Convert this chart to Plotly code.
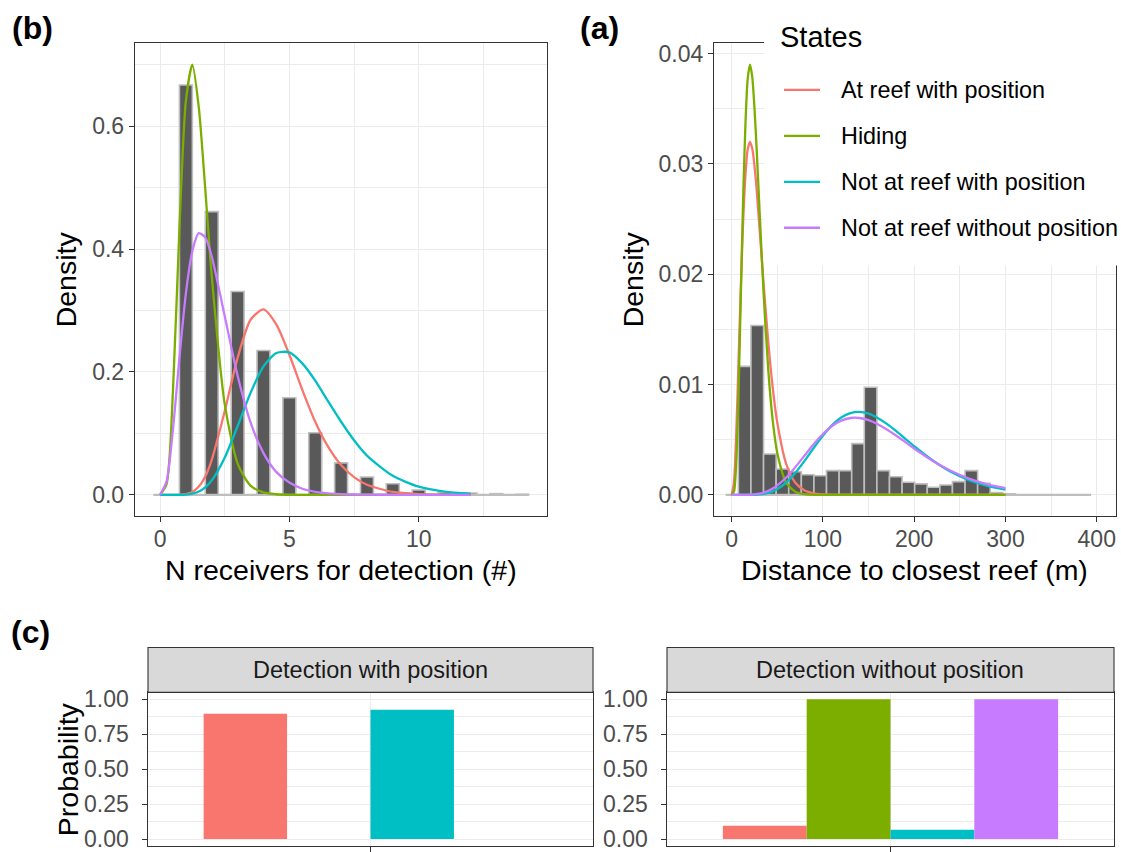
import plotly.graph_objects as go

W, H = 1121, 852
FONT = "Liberation Sans, Arial, sans-serif"

def fx(p):
    return p / W

def fy(p):
    return 1 - p / H

# ---------------- data ----------------
state_names = ["At reef with position", "Hiding", "Not at reef with position",
               "Not at reef without position"]
state_colors = ["#F8766D", "#7CAE00", "#00BFC4", "#C77CFF"]

# Panel (b): N receivers histogram (density, binwidth 0.5, integer data)
b_bin_centers = [0, 1, 2, 3, 4, 5, 6, 7, 8, 9, 10, 11, 12, 13, 14]
b_density = [0, 0.667, 0.461, 0.331, 0.235, 0.158, 0.101, 0.052, 0.029, 0.018,
             0.008, 0.004, 0.003, 0.002, 0.001]
b_binwidth = 0.5

# Panel (b): state-dependent densities
b_x = [0, 0.25, 0.5, 0.75, 1, 1.25, 1.5, 1.75, 2, 2.5, 3, 3.5, 4, 4.5, 5, 5.5,
       6, 6.5, 7, 7.5, 8, 9, 10, 11, 12]
b_red = [0, 0, 0, 0.0001, 0.0011, 0.0046, 0.0135, 0.030, 0.057, 0.136, 0.223,
         0.285, 0.302, 0.277, 0.228, 0.171, 0.119, 0.078, 0.0485, 0.0288,
         0.0164, 0.0048, 0.0013, 0.0003, 0.0001]
b_green = [0, 0.017, 0.169, 0.434, 0.641, 0.700, 0.630, 0.497, 0.356, 0.148,
           0.051, 0.015, 0.004, 0.001, 0, 0, 0, 0, 0, 0, 0, 0, 0, 0, 0]
b_cyan = [0, 0, 0, 0, 0.0005, 0.0019, 0.0055, 0.0123, 0.0235, 0.0605, 0.112,
          0.166, 0.209, 0.231, 0.232, 0.214, 0.186, 0.152, 0.119, 0.089, 0.064,
          0.031, 0.0133, 0.0053, 0.0020]
b_purple = [0, 0.0215, 0.107, 0.223, 0.328, 0.397, 0.426, 0.419, 0.388, 0.291,
            0.194, 0.118, 0.068, 0.037, 0.020, 0.010, 0.005, 0.0024, 0.0012,
            0.0006, 0.0003, 0.0001, 0, 0, 0]

# Panel (a): distance to closest reef histogram (density)
a_first_bin = 0.4
a_binwidth = 13.8
a_density = [0, 0.01165, 0.01535, 0.0037, 0.00234, 0.0021, 0.00183, 0.00174,
             0.0022, 0.0022, 0.00465, 0.00976, 0.0022, 0.00165, 0.00114, 0.001,
             0.00069, 0.0009, 0.0012, 0.0022, 0.00105, 0.0002, 0.0001, 0, 0, 0,
             0, 0, 0]

a_x = [0, 2.5, 5, 7.5, 10, 12.5, 15, 17.5, 20, 22.5, 25, 27.5, 30, 35, 40, 45,
       50, 60, 70, 80, 90, 100, 110, 120, 130, 140, 150, 160, 170, 180, 190,
       200, 220, 240, 260, 280, 300]
a_red = [0, 0.00119, 0.00562, 0.0121, 0.0189, 0.0247, 0.0289, 0.0313, 0.0320,
         0.0314, 0.0298, 0.0275, 0.0247, 0.0191, 0.0139, 0.00968, 0.00652,
         0.00274, 0.00107, 0.00039, 0.00014, 0.00005, 0, 0, 0, 0, 0, 0, 0, 0,
         0, 0, 0, 0, 0, 0, 0]
a_green = [0, 0.000315, 0.00306, 0.0094, 0.0180, 0.0267, 0.0335, 0.0377,
           0.0390, 0.0379, 0.0350, 0.0311, 0.0267, 0.0182, 0.0114, 0.0067,
           0.00378, 0.00106, 0.00027, 0.00006, 0, 0, 0, 0, 0, 0, 0, 0, 0, 0,
           0, 0, 0, 0, 0, 0, 0]
a_cyan = [0, 0, 0, 0, 0, 0, 0, 0, 0, 0, 0.00001, 0.00002, 0.00004, 0.00009,
          0.00018, 0.00032, 0.00053, 0.00114, 0.00202, 0.0031, 0.00427,
          0.00538, 0.00633, 0.00702, 0.00742, 0.00753, 0.00737, 0.00698,
          0.00644, 0.0058, 0.00511, 0.00441, 0.00314, 0.0021, 0.00134,
          0.00082, 0.00048]
a_purple = [0, 0, 0, 0, 0, 0, 0, 0, 0.00002, 0.00003, 0.00005, 0.00008,
            0.000105, 0.00021, 0.00036, 0.00058, 0.00086, 0.0016, 0.00254,
            0.00358, 0.00461, 0.00552, 0.00625, 0.00673, 0.00697, 0.00697,
            0.00677, 0.00641, 0.00593, 0.00538, 0.0048, 0.0042, 0.0031,
            0.00218, 0.00147, 0.00096, 0.00061]

# Panel (c): detection probabilities per state
c_facets = ["Detection with position", "Detection without position"]
c_with_position = [0.897, 0, 0.925, 0]
c_without_position = [0.096, 1.0, 0.067, 1.0]

b_tick_vals = [0, 5, 10]
b_ytick_vals = [0, 0.2, 0.4, 0.6]
b_ytick_text = ["0.0", "0.2", "0.4", "0.6"]
a_tick_vals = [0, 100, 200, 300, 400]
a_ytick_vals = [0, 0.01, 0.02, 0.03, 0.04]
a_ytick_text = ["0.00", "0.01", "0.02", "0.03", "0.04"]
c_ytick_vals = [0, 0.25, 0.5, 0.75, 1.0]
c_ytick_text = ["0.00", "0.25", "0.50", "0.75", "1.00"]

# ---------------- figure ----------------
fig = go.Figure()
HIST_FILL = "#595959"
HIST_LINE = "#BEBEBE"

# panel b
fig.add_trace(go.Scatter(
    x=[b_bin_centers[0] - b_binwidth / 2, b_bin_centers[-1] + b_binwidth / 2],
    y=[0, 0], mode="lines", line=dict(color=HIST_LINE, width=2.2),
    xaxis="x", yaxis="y", hoverinfo="skip"))
fig.add_trace(go.Bar(
    x=b_bin_centers, y=b_density, width=b_binwidth,
    marker=dict(color=HIST_FILL, line=dict(color=HIST_LINE, width=1.6)),
    xaxis="x", yaxis="y"))
for ys, col in zip([b_red, b_green, b_cyan, b_purple], state_colors):
    fig.add_trace(go.Scatter(
        x=b_x, y=ys, mode="lines",
        line=dict(color=col, width=2.3, shape="spline", smoothing=0.7),
        xaxis="x", yaxis="y"))

# panel a
a_centers = [a_first_bin + a_binwidth * k for k in range(len(a_density))]
fig.add_trace(go.Scatter(
    x=[a_centers[0] - a_binwidth / 2, a_centers[-1] + a_binwidth / 2],
    y=[0, 0], mode="lines", line=dict(color=HIST_LINE, width=2.2),
    xaxis="x2", yaxis="y2", hoverinfo="skip"))
fig.add_trace(go.Bar(
    x=a_centers, y=a_density, width=a_binwidth,
    marker=dict(color=HIST_FILL, line=dict(color=HIST_LINE, width=1.6)),
    xaxis="x2", yaxis="y2"))
for ys, col in zip([a_red, a_green, a_cyan, a_purple], state_colors):
    fig.add_trace(go.Scatter(
        x=a_x, y=ys, mode="lines",
        line=dict(color=col, width=2.3, shape="spline", smoothing=0.7),
        xaxis="x2", yaxis="y2"))

# panel c
n_states = len(state_names)
bw = 0.9 / n_states
for facet_vals, xa, ya in [(c_with_position, "x3", "y3"),
                           (c_without_position, "x4", "y4")]:
    for i, (v, col) in enumerate(zip(facet_vals, state_colors)):
        fig.add_trace(go.Bar(
            x=[1], y=[v], width=bw, offset=-0.45 + bw * i,
            marker=dict(color=col, line=dict(width=0)),
            xaxis=xa, yaxis=ya))

# ---------------- axes ----------------
TICKFONT = dict(family=FONT, size=23, color="#4D4D4D")

def axstyle(**kw):
    d = dict(showline=True, mirror=True, linecolor="#333333", linewidth=1.1,
             ticks="outside", ticklen=5, tickwidth=1.1, tickcolor="#333333",
             showgrid=True, gridcolor="#EBEBEB", gridwidth=1.4, zeroline=False,
             tickfont=TICKFONT)
    d.update(kw)
    return d

BX = [134.8, 547.4]
AX = [714, 1116]
TOPY, BOTY = 41.3, 515.6
fig.update_layout(
    xaxis=axstyle(domain=[fx(BX[0]), fx(BX[1])], range=[-0.975, 14.975],
                  tickvals=b_tick_vals, anchor="y", ticklabelstandoff=-3,
                  minor=dict(showgrid=True, gridcolor="#EBEBEB", gridwidth=0.7,
                             tickvals=[2.5, 7.5, 12.5])),
    yaxis=axstyle(domain=[fy(BOTY), fy(TOPY)], range=[-0.035, 0.735],
                  tickvals=b_ytick_vals, ticktext=b_ytick_text, anchor="x",
                  minor=dict(showgrid=True, gridcolor="#EBEBEB", gridwidth=0.7,
                             tickvals=[0.1, 0.3, 0.5, 0.7])),
    xaxis2=axstyle(domain=[fx(AX[0]), fx(AX[1])], range=[-19.4, 421.1],
                   tickvals=a_tick_vals, anchor="y2", ticklabelstandoff=-3,
                   minor=dict(showgrid=True, gridcolor="#EBEBEB", gridwidth=0.7,
                              tickvals=[50, 150, 250, 350])),
    yaxis2=axstyle(domain=[fy(BOTY), fy(TOPY)], range=[-0.00195, 0.04095],
                   tickvals=a_ytick_vals, ticktext=a_ytick_text, anchor="x2",
                   minor=dict(showgrid=True, gridcolor="#EBEBEB", gridwidth=0.7,
                              tickvals=[0.005, 0.015, 0.025, 0.035])),
)
CL = [148, 593]
CR = [667, 1114]
CTOP, CBOT = 692, 846
C_YRANGE = [-0.05, 1.05]
for xa, ya, dom in [("xaxis3", "yaxis3", CL), ("xaxis4", "yaxis4", CR)]:
    fig.update_layout({
        xa: axstyle(domain=[fx(dom[0]), fx(dom[1])], range=[0.4, 1.6],
                    tickvals=[1], ticktext=[""], anchor=ya.replace("axis", "")),
        ya: axstyle(domain=[fy(CBOT), fy(CTOP)], range=C_YRANGE,
                    tickvals=c_ytick_vals, ticktext=c_ytick_text,
                    showticklabels=False,
                    anchor=xa.replace("axis", ""),
                    minor=dict(showgrid=True, gridcolor="#EBEBEB", gridwidth=0.7,
                               tickvals=[0.125, 0.375, 0.625, 0.875])),
    })

# ---------------- shapes & annotations ----------------
shapes = []
annotations = []

# panel c y tick labels (written as text so the bottom one is not clipped)
for dom in [CL, CR]:
    for v, t in zip(c_ytick_vals, c_ytick_text):
        ypx = CBOT - (v - C_YRANGE[0]) / (C_YRANGE[1] - C_YRANGE[0]) * (CBOT - CTOP)
        annotations.append(dict(x=fx(dom[0] - 17), y=fy(ypx), xref="paper",
                                yref="paper", text=t, showarrow=False,
                                xanchor="right", yanchor="middle",
                                font=TICKFONT))

# strips for panel c
for dom, title in zip([CL, CR], c_facets):
    shapes.append(dict(type="rect", xref="paper", yref="paper",
                       x0=fx(dom[0]), x1=fx(dom[1]), y0=fy(CTOP), y1=fy(647),
                       fillcolor="#D9D9D9", line=dict(color="#333333", width=1.1),
                       layer="above"))
    annotations.append(dict(x=fx((dom[0] + dom[1]) / 2), y=fy(669.5),
                            xref="paper", yref="paper", text=title,
                            showarrow=False, xanchor="center", yanchor="middle",
                            font=dict(family=FONT, size=23.5, color="#1A1A1A")))

# legend (drawn over panel a)
shapes.append(dict(type="rect", xref="paper", yref="paper",
                   x0=fx(764), x1=1.0, y0=fy(264), y1=1.0,
                   fillcolor="white", line=dict(width=0), layer="above"))
for i, (name, col) in enumerate(zip(state_names, state_colors)):
    yy = 88.0 + 46.1 * i
    shapes.append(dict(type="line", xref="paper", yref="paper",
                       x0=fx(784), x1=fx(820), y0=fy(yy), y1=fy(yy),
                       line=dict(color=col, width=2.3), layer="above"))
    annotations.append(dict(x=fx(839), y=fy(yy), xref="paper", yref="paper",
                            text=name, showarrow=False, xanchor="left",
                            yanchor="middle",
                            font=dict(family=FONT, size=23.4, color="black")))
annotations.append(dict(x=fx(778), y=fy(35), xref="paper", yref="paper",
                        text="States", showarrow=False, xanchor="left",
                        yanchor="middle",
                        font=dict(family=FONT, size=29, color="black")))

# axis titles
def title_ann(text, x, y, angle=0):
    return dict(x=fx(x), y=fy(y), xref="paper", yref="paper", text=text,
                showarrow=False, xanchor="center", yanchor="middle",
                textangle=angle, font=dict(family=FONT, size=28.5, color="black"))

annotations += [
    title_ann("Density", 66, 278, -90),
    title_ann("Density", 633, 278, -90),
    title_ann("N receivers for detection (#)", 341, 569),
    title_ann("Distance to closest reef (m)", 915, 569),
    title_ann("Probability", 68, 769, -90),
]
for lab, x, y in [("(b)", 32, 26), ("(a)", 599, 26), ("(c)", 30, 631)]:
    annotations.append(dict(x=fx(x), y=fy(y), xref="paper", yref="paper",
                            text="<b>%s</b>" % lab, showarrow=False,
                            xanchor="center", yanchor="middle",
                            font=dict(family=FONT, size=32, color="black")))

fig.update_layout(
    width=W, height=H, autosize=False,
    margin=dict(l=0, r=0, t=0, b=0),
    paper_bgcolor="white", plot_bgcolor="white",
    showlegend=False, barmode="overlay",
    shapes=shapes, annotations=annotations,
    font=dict(family=FONT),
)

fig.write_html("out.html", config={"displayModeBar": False})
